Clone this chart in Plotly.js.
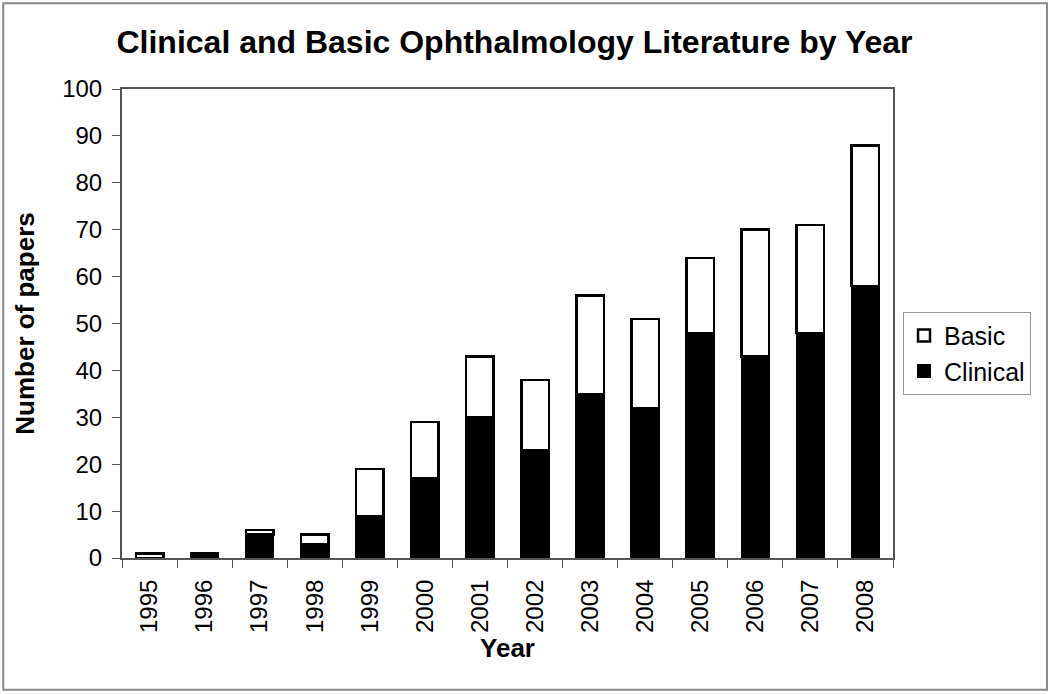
<!DOCTYPE html>
<html>
<head>
<meta charset="utf-8">
<script src="https://cdn.plot.ly/plotly-3.0.1.min.js"></script>
<style>
  body { margin: 0; background: #fff; }
  #chart { width: 1050px; height: 694px; }
</style>
</head>
<body>
<div id="chart"></div>
<script>
// values
var years = ["1995","1996","1997","1998","1999","2000","2001","2002","2003","2004","2005","2006","2007","2008"];
var clinical = [0, 1, 5, 3, 9, 17, 30, 23, 35, 32, 48, 43, 48, 58];
var basic    = [1, 0, 1, 2, 10, 12, 13, 15, 21, 19, 16, 27, 23, 30];
var yTicks = [0, 10, 20, 30, 40, 50, 60, 70, 80, 90, 100];

var fontFam = "Arial, 'Liberation Sans', sans-serif";

var data = [
  {
    type: "bar", name: "Clinical", x: years, y: clinical,
    marker: {color: "#000", line: {color: "#000", width: 2}}
  },
  {
    type: "bar", name: "Basic", x: years, y: basic,
    marker: {color: "#fff", line: {color: "#000", width: 2.5}}
  }
];

var layout = {
  width: 1050, height: 694,
  margin: {l: 122, r: 157, t: 89, b: 136},
  barmode: "stack",
  bargap: 0.5,
  paper_bgcolor: "#fff",
  plot_bgcolor: "#fff",
  font: {family: fontFam, color: "#000", size: 24},
  showlegend: true,
  title: {
    text: "<b>Clinical and Basic Ophthalmology Literature by Year</b>",
    font: {size: 32, family: fontFam},
    x: 0.49, xanchor: "center", y: 0.94, yanchor: "middle"
  },
  xaxis: {
    type: "category",
    tickangle: -90,
    tickson: "boundaries",
    ticks: "outside", ticklen: 8, tickcolor: "#555",
    ticklabelstandoff: 10,
    showline: true, linecolor: "#555", linewidth: 2, mirror: true,
    showgrid: false,
    tickfont: {size: 24},
    title: {text: "<b>Year</b>", font: {size: 26}, standoff: 2}
  },
  yaxis: {
    range: [0, 100],
    tickvals: yTicks,
    ticks: "outside", ticklen: 8, tickcolor: "#555",
    ticklabelstandoff: 5,
    showline: true, linecolor: "#555", linewidth: 2, mirror: true,
    showgrid: false, zeroline: false,
    tickfont: {size: 24},
    title: {text: "<b>Number of papers</b>", font: {size: 26}, standoff: 20}
  },
  legend: {
    x: 1.013, xanchor: "left",
    y: 0.525, yanchor: "top",
    traceorder: "reversed",
    bordercolor: "#999", borderwidth: 1,
    font: {size: 25},
    itemwidth: 30
  },
  shapes: [
    {type: "rect", xref: "paper", yref: "paper",
     x0: -0.154, x1: 1.1997, y0: -0.281, y1: 1.183,
     line: {color: "#888", width: 2}, fillcolor: "rgba(0,0,0,0)"}
  ]
};

Plotly.newPlot("chart", data, layout, {displayModeBar: false, staticPlot: true});
</script>
</body>
</html>
